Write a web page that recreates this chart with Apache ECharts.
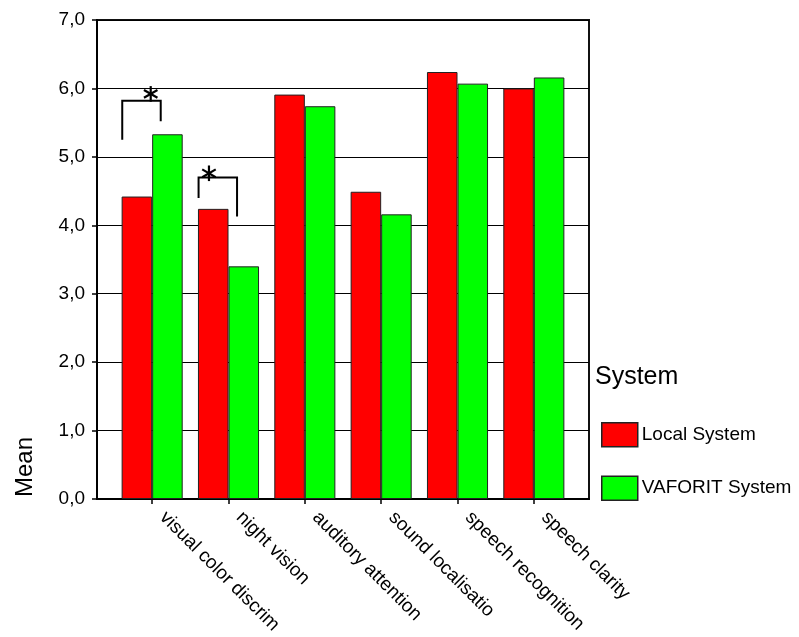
<!DOCTYPE html>
<html>
<head>
<meta charset="utf-8">
<style>
  html, body { margin: 0; padding: 0; background: #fff; }
  #chart { width: 799px; height: 637px; }
</style>
<script src="https://cdn.jsdelivr.net/npm/echarts@6/dist/echarts.min.js"></script>
</head>
<body>
<div id="chart"></div>
<script>
// Mean ratings per item for the two systems
const categories = ['visual color discrim', 'night vision', 'auditory attention',
                    'sound localisatio', 'speech recognition', 'speech clarity'];
const localSystem   = [4.42, 4.24, 5.91, 4.49, 6.24, 6.00];
const vaforitSystem = [5.33, 3.40, 5.74, 4.16, 6.07, 6.16];
const seriesNames = ['Local System', 'VAFORIT System'];
const yTicks = [0, 1, 2, 3, 4, 5, 6, 7];

// Significance brackets: [category index, left foot, top, right foot, star height, star position along bracket]
const brackets = [
  [0, 5.25, 5.82, 5.52, 5.92, 0.74],
  [1, 4.40, 4.70, 4.13, 4.76, 0.27]
];

const FONT = "'Liberation Sans', Arial, sans-serif";
const chart = echarts.init(document.getElementById('chart'), null, { renderer: 'canvas' });

const fmt = v => v.toFixed(1).replace('.', ',');

function renderBracket(params, api) {
  const cat = api.value(0);
  const band = api.size([1, 0])[0];
  const cx = api.coord([cat, 0])[0];
  const xl = cx - band * 0.392;
  const xr = cx + band * 0.112;
  const yl = api.coord([cat, api.value(1)])[1];
  const yt = api.coord([cat, api.value(2)])[1];
  const yr = api.coord([cat, api.value(3)])[1];
  const sy = api.coord([cat, api.value(4)])[1];
  const sx = xl + (xr - xl) * api.value(5);
  const r = 7.8;
  const star = [90, 30, 150].map(a => {
    const t = a * Math.PI / 180;
    return {
      type: 'line',
      shape: { x1: sx - r * Math.cos(t), y1: sy - r * Math.sin(t),
               x2: sx + r * Math.cos(t), y2: sy + r * Math.sin(t) },
      style: { stroke: '#000', lineWidth: 2.2 }
    };
  });
  return {
    type: 'group',
    children: [{
      type: 'polyline',
      shape: { points: [[xl, yl], [xl, yt], [xr, yt], [xr, yr]] },
      style: { stroke: '#000', lineWidth: 2, fill: null }
    }].concat(star)
  };
}

const option = {
  animation: false,
  backgroundColor: '#fff',
  textStyle: { fontFamily: FONT },
  grid: [
    { left: 97, top: 20, width: 492, height: 479, show: true,
      borderColor: '#111', borderWidth: 2, backgroundColor: 'transparent' },
    { left: 114, top: 20, width: 458, height: 479 }
  ],
  xAxis: [
    { gridIndex: 0, type: 'value', min: 0, max: 1,
      axisLine: { show: true, lineStyle: { color: '#000', width: 2 } },
      axisTick: { show: false }, axisLabel: { show: false }, splitLine: { show: false } },
    { gridIndex: 1, type: 'category', data: categories,
      axisLine: { show: false },
      axisTick: { show: true, alignWithLabel: true, length: 5, lineStyle: { color: '#000', width: 1.5 } },
      axisLabel: { rotate: -45, margin: 5, padding: [0, 0, 0, 15], fontSize: 19,
                   color: '#000', fontFamily: FONT, interval: 0 },
      splitLine: { show: false } }
  ],
  yAxis: [
    { gridIndex: 0, type: 'value', min: yTicks[0], max: yTicks[yTicks.length - 1], interval: 1,
      axisLine: { show: true, lineStyle: { color: '#000', width: 2 } },
      axisTick: { show: true, length: 5, lineStyle: { color: '#000', width: 1.5 } },
      axisLabel: { formatter: fmt, fontSize: 19, color: '#000', margin: 12, fontFamily: FONT },
      splitLine: { show: true, lineStyle: { color: '#000', width: 1.2 } } },
    { gridIndex: 1, type: 'value', min: yTicks[0], max: yTicks[yTicks.length - 1], interval: 1,
      show: false, splitLine: { show: false } }
  ],
  legend: {
    orient: 'vertical', left: 596, top: 417,
    itemWidth: 36, itemHeight: 24, itemGap: 28,
    icon: 'rect',
    itemStyle: { borderColor: '#222', borderWidth: 1.5 },
    textStyle: { fontSize: 19, color: '#000', fontFamily: FONT, padding: [0, 0, 0, -1] },
    data: seriesNames
  },
  graphic: [
    { type: 'text', left: 595, top: 365,
      style: { text: 'System', fontSize: 25, fill: '#000', fontFamily: FONT } },
    { type: 'text', x: 25, y: 467, rotation: Math.PI / 2,
      style: { text: 'Mean', fontSize: 24, fill: '#000', fontFamily: FONT,
               textAlign: 'center', textVerticalAlign: 'middle' } }
  ],
  series: [
    { name: seriesNames[0], type: 'bar', xAxisIndex: 1, yAxisIndex: 1,
      data: localSystem, barGap: '0%', barCategoryGap: '20%',
      itemStyle: { color: '#ff0000', borderColor: '#222', borderWidth: 1 } },
    { name: seriesNames[1], type: 'bar', xAxisIndex: 1, yAxisIndex: 1,
      data: vaforitSystem, barGap: '0%', barCategoryGap: '20%',
      itemStyle: { color: '#00ff00', borderColor: '#222', borderWidth: 1 } },
    { type: 'custom', xAxisIndex: 1, yAxisIndex: 1, data: brackets,
      renderItem: renderBracket, silent: true, z: 5 }
  ]
};

chart.setOption(option);
</script>
</body>
</html>
